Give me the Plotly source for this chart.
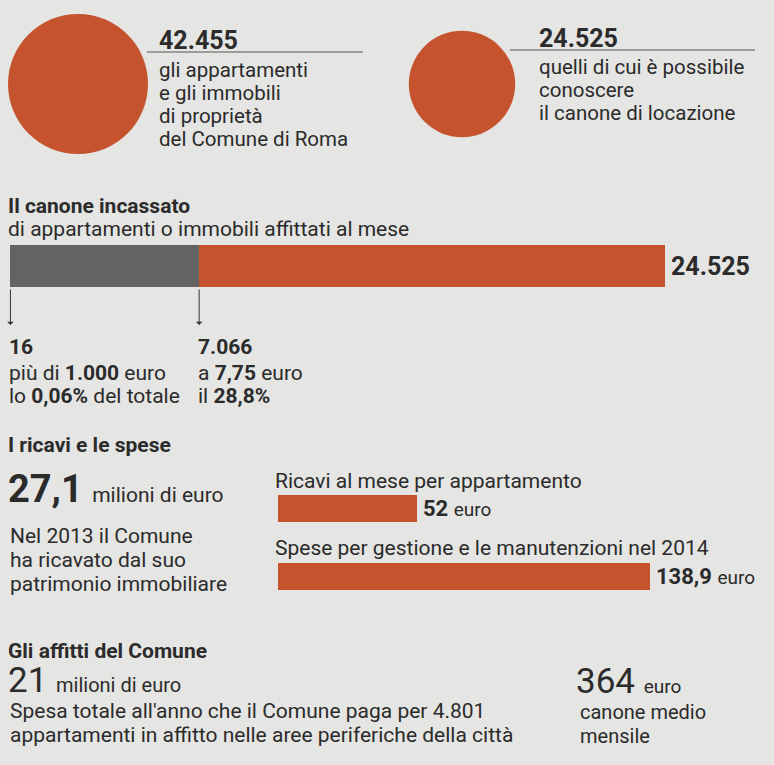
import plotly.graph_objects as go

W, H = 774, 765

# ---------------- data ----------------
circle_values = [42455, 24525]
circle_numbers = ["42.455", "24.525"]
circle_texts = [
    ["gli appartamenti", "e gli immobili", "di proprietà", "del Comune di Roma"],
    ["quelli di cui è possibile", "conoscere", "il canone di locazione"],
]

canone_names = ["più di 1.000 euro", "a 7,75 euro", "altri"]
canone_values = [16, 7066, 17443]
canone_total_label = "24.525"
canone_numbers = ["16", "7.066"]

ricavi_names = ["Ricavi al mese per appartamento",
                "Spese per gestione e le manutenzioni nel 2014"]
ricavi_values = [52, 138.9]
ricavi_labels = ["52", "138,9"]

# ---------------- style ----------------
BG = "#e5e5e3"
ORANGE = "#c4532e"
GREY = "#636363"
BLACK = "#1e1e1e"
TXT = "#2b2b2b"
FONT = "Roboto"


def px(x):
    return x / W


def py(y):
    return 1 - y / H


fig = go.Figure()

# circles (area proportional to value); max diameter ~140 px
fig.add_trace(go.Scatter(
    x=[0, 1], y=[0, 0], mode="markers",
    marker=dict(size=circle_values, sizemode="area",
                sizeref=2.0 * circle_values[0] / 140 ** 2,
                color=ORANGE, opacity=1, line=dict(width=0)),
    xaxis="x3", yaxis="y3", cliponaxis=False, hoverinfo="skip",
    showlegend=False))

# stacked top bar
colors = [BLACK, GREY, ORANGE]
for name, v, c in zip(canone_names, canone_values, colors):
    fig.add_trace(go.Bar(
        x=[v], y=[0], orientation="h", name=name,
        marker=dict(color=c, line=dict(width=6 if c == BLACK else 0, color=c)),
        width=1, xaxis="x", yaxis="y", showlegend=False, hoverinfo="skip"))

# lower bars
fig.add_trace(go.Bar(
    x=ricavi_values, y=[0, 1], orientation="h",
    marker=dict(color=ORANGE, line=dict(width=0)),
    width=0.4, xaxis="x2", yaxis="y2", showlegend=False, hoverinfo="skip"))

total = sum(canone_values)
ann = []


def text(x, y, s, size=21, anchor="left", bold=False, color=TXT, **kw):
    d = dict(x=px(x), y=py(y), xref="paper", yref="paper", text=("<b>%s</b>" % s) if bold else s,
             showarrow=False, xanchor=anchor, yanchor="middle",
             font=dict(family=FONT, size=size, color=color))
    d.update(kw)
    ann.append(d)


# top texts
text(157, 40, circle_numbers[0], size=25, bold=True)
for i, line in enumerate(circle_texts[0]):
    text(157, 70 + 23 * i, line, size=20.5)
text(537, 38, circle_numbers[1], size=25, bold=True)
for i, line in enumerate(circle_texts[1]):
    text(537, 67 + 23 * i, line, size=20.5)

# section 1
text(6, 206, "Il canone incassato", size=21, bold=True)
text(6, 229, "di appartamenti o immobili affittati al mese", size=21)

ann.append(dict(x=total, y=0, xref="x", yref="y", text="<b>%s</b>" % canone_total_label,
                showarrow=False, xanchor="left", xshift=4,
                font=dict(family=FONT, size=25, color=TXT)))

bounds = [canone_values[0], canone_values[0] + canone_values[1]]
sub_lines = [
    ["più di <b>1.000</b> euro", "lo <b>0,06%</b> del totale"],
    ["a <b>7,75</b> euro", "il <b>28,8%</b>"],
]
for b, num, lines in zip(bounds, canone_numbers, sub_lines):
    ann.append(dict(x=b, y=py(325), xref="x", yref="paper", text="",
                    showarrow=True, ax=0, ay=-37, arrowhead=1, arrowsize=1.1,
                    arrowwidth=1, arrowcolor="#333"))
    ann.append(dict(x=b, y=py(347), xref="x", yref="paper", text="<b>%s</b>" % num,
                    showarrow=False, xanchor="left", yanchor="middle", xshift=-3,
                    font=dict(family=FONT, size=21, color=TXT)))
    for j, l in enumerate(lines):
        ann.append(dict(x=b, y=py(373 + 23 * j), xref="x", yref="paper", text=l,
                        showarrow=False, xanchor="left", yanchor="middle", xshift=-3,
                        font=dict(family=FONT, size=21, color=TXT)))

# section 2
text(6, 445, "I ricavi e le spese", size=21, bold=True)
text(6, 489, "<b>27,1</b> <span style='font-size:21px'>milioni di euro</span>", size=38)
for i, line in enumerate(["Nel 2013 il Comune", "ha ricavato dal suo", "patrimonio immobiliare"]):
    text(8, 536 + 24 * i, line, size=21)

text(273, 481, ricavi_names[0], size=21)
text(273, 548, ricavi_names[1], size=21)
for v, lab, cat in zip(ricavi_values, ricavi_labels, [0, 1]):
    ann.append(dict(x=v, y=cat, xref="x2", yref="y2",
                    text="<b>%s</b> <span style='font-size:19px'>euro</span>" % lab,
                    showarrow=False, xanchor="left", xshift=4, yshift=0,
                    font=dict(family=FONT, size=22, color=TXT)))

# section 3
text(6, 651, "Gli affitti del Comune", size=21, bold=True)
text(6, 680, "21 <span style='font-size:20px'>milioni di euro</span>", size=35)
text(8, 711, "Spesa totale all'anno che il Comune paga per 4.801", size=21)
text(8, 735, "appartamenti in affitto nelle aree periferiche della città", size=21)
text(574, 681, "364 <span style='font-size:19px'>euro</span>", size=35)
text(578, 712, "canone medio", size=20)
text(578, 736, "mensile", size=20)

shapes = [
    dict(type="line", xref="paper", yref="paper", x0=px(147), x1=px(363), y0=py(52), y1=py(52),
         line=dict(color="#555", width=1)),
    dict(type="line", xref="paper", yref="paper", x0=px(510), x1=px(755), y0=py(50), y1=py(50),
         line=dict(color="#555", width=1)),
]

hidden = dict(visible=False, showgrid=False, zeroline=False, fixedrange=True)
fig.update_layout(
    width=W, height=H, margin=dict(l=0, r=0, t=0, b=0),
    paper_bgcolor=BG, plot_bgcolor="rgba(0,0,0,0)",
    barmode="stack", bargap=0, annotations=ann, shapes=shapes,
    xaxis=dict(domain=[px(10), px(665)], range=[0, total], anchor="y", **hidden),
    yaxis=dict(domain=[py(287), py(245)], range=[-0.5, 0.5], anchor="x", **hidden),
    xaxis2=dict(domain=[px(278), px(650)], range=[0, ricavi_values[1]], anchor="y2", **hidden),
    yaxis2=dict(domain=[py(609.75), py(474.75)], range=[1.5, -0.5], anchor="x2", **hidden),
    xaxis3=dict(domain=[px(78), px(462)], range=[0, 1], anchor="y3", **hidden),
    yaxis3=dict(domain=[py(134), py(34)], range=[-1, 1], anchor="x3", **hidden),
)

fig.write_html(
    "out.html",
    config={"displayModeBar": False},
    post_script="document.body.style.margin='0';document.body.style.overflow='hidden';"
                "document.body.style.background='%s';" % BG,
)
